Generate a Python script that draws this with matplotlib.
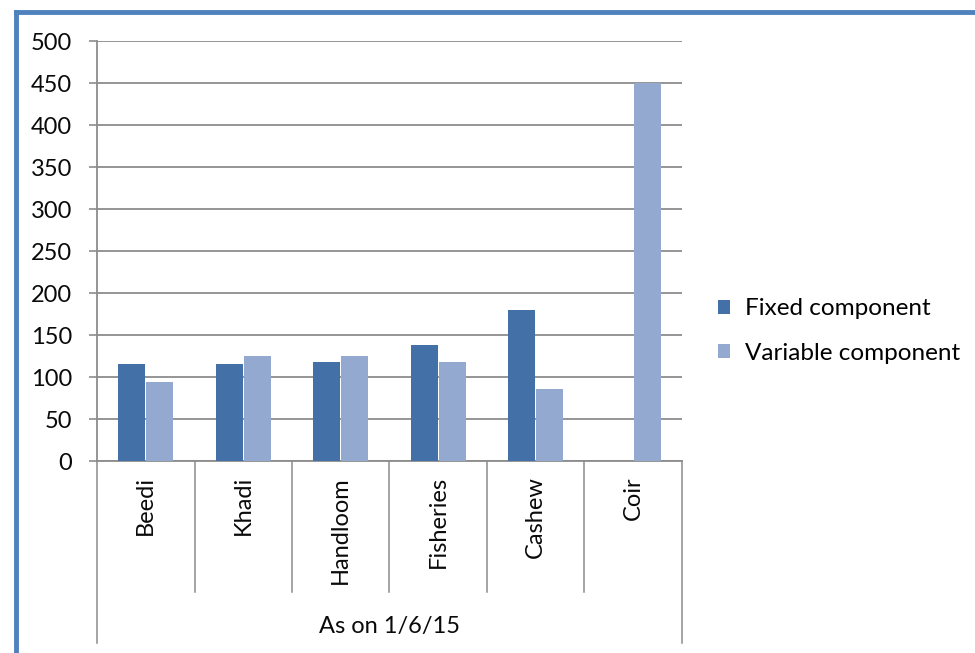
import matplotlib
matplotlib.use("Agg")
import matplotlib.pyplot as plt
from matplotlib.patches import Patch
from matplotlib.lines import Line2D
import matplotlib.transforms as mtransforms

categories = ["Beedi", "Khadi", "Handloom", "Fisheries", "Cashew", "Coir"]
fixed_component = [116, 115, 118, 138, 180, 0]
variable_component = [94, 125, 125, 118, 86, 450]
y_ticks = [0, 50, 100, 150, 200, 250, 300, 350, 400, 450, 500]
group_label = "As on 1/6/15"
series_names = ["Fixed component", "Variable component"]

FONT = "Lato"
plt.rcParams["font.family"] = [FONT, "DejaVu Sans"]
C_FIXED = "#4470A8"
C_VAR = "#93A9D0"
GRID = "#8C8C8C"
TXT = "#0a0a0a"
FS = 17

W, H = 975, 653
fig = plt.figure(figsize=(W / 100, H / 100), dpi=100)
fig.patch.set_facecolor("white")

L, R, T, B = 97, 682, 41, 461
ax = fig.add_axes([L / W, 1 - B / H, (R - L) / W, (B - T) / H])

x = list(range(len(categories)))
bw = 0.275
ax.bar([i - 0.145 for i in x], fixed_component, width=bw, color=C_FIXED, zorder=3)
ax.bar([i + 0.145 for i in x], variable_component, width=bw, color=C_VAR, zorder=3)

ax.set_xlim(-0.5, len(categories) - 0.5)
ax.set_ylim(0, 500)
ax.set_yticks(y_ticks)
ax.set_yticklabels([str(v) for v in y_ticks], fontsize=FS, color=TXT)
ax.yaxis.grid(True, color=GRID, linewidth=1.3, zorder=0)
ax.tick_params(axis="y", length=6, width=1.2, color=GRID, pad=12)
ax.set_xticks([])
for s in ["top", "right"]:
    ax.spines[s].set_visible(False)
for s in ["left", "bottom"]:
    ax.spines[s].set_color(GRID)
    ax.spines[s].set_linewidth(1.3)

trans = mtransforms.blended_transform_factory(ax.transData, ax.transAxes)
inner = -(592 - B) / (B - T)
outer = -(643 - B) / (B - T)
n = len(categories)
for k in range(n + 1):
    xv = k - 0.5
    y1 = outer if k in (0, n) else inner
    ax.add_line(Line2D([xv, xv], [0, y1], transform=trans, color=GRID,
                       linewidth=1.1, clip_on=False))
for i, c in enumerate(categories):
    ax.text(i, -(476 - B) / (B - T), c, transform=trans, rotation=90,
            ha="center", va="top", fontsize=FS, color=TXT)
ax.text((n - 1) / 2, -(627 - B) / (B - T), group_label, transform=trans,
        ha="center", va="center", fontsize=FS, color=TXT)

handles = [Patch(facecolor=C_FIXED), Patch(facecolor=C_VAR)]
fig.legend(handles, series_names, loc="center left",
           bbox_to_anchor=(696 / W, 1 - 331 / H), frameon=False,
           fontsize=17.5, handlelength=0.5, handleheight=0.5,
           handletextpad=0.6, labelspacing=0.95)

# blue frame
fig.add_artist(Line2D([16 / W, 1.0], [1 - 12 / H, 1 - 12 / H],
                      transform=fig.transFigure, color="#4F81BD", linewidth=3.5))
fig.add_artist(Line2D([16 / W, 16 / W], [1 - 12 / H, 0],
                      transform=fig.transFigure, color="#4F81BD", linewidth=3.5))

fig.savefig("out.png", dpi=100)
